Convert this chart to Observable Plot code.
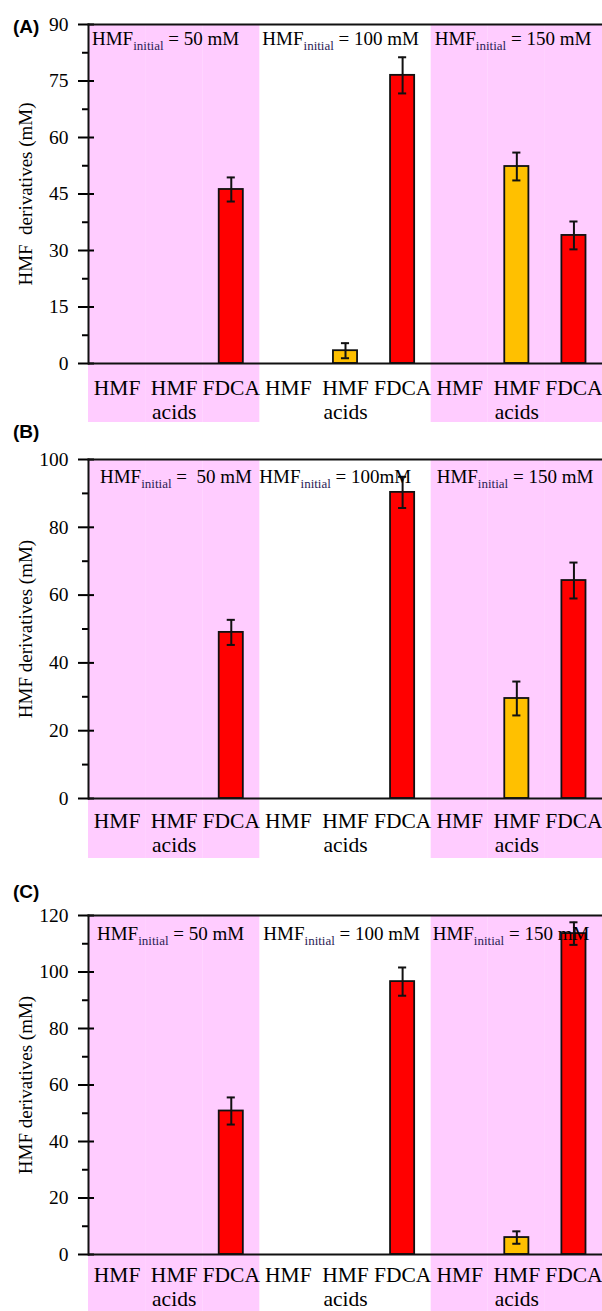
<!DOCTYPE html>
<html><head><meta charset="utf-8">
<script src="https://cdn.jsdelivr.net/npm/d3@7"></script>
<script src="https://cdn.jsdelivr.net/npm/@observablehq/plot@0.6"></script>
<style>
body{margin:0;background:#fff;}
#wrap{position:relative;width:602px;height:1311px;overflow:hidden;}
#wrap svg text{font-family:"Liberation Serif",serif !important;}
.plabel{position:absolute;left:13px;font:bold 19px "Liberation Sans",Arial,sans-serif;line-height:19px;color:#000;}
svg{display:block;}
</style></head><body><div id="wrap"></div>
<script>
const groups = ["50 mM", "100 mM", "150 mM"];
const categories = ["HMF", "HMF\nacids", "FDCA"];
const panelLetters = ["(A)", "(B)", "(C)"];
const yTitles = ["HMF  derivatives (mM)", "HMF derivatives (mM)", "HMF derivatives (mM)"];

const yMaxA = 90, yMaxB = 100, yMaxC = 120;
const ticksA = [0, 15, 30, 45, 60, 75, 90];
const minorA = [7.5, 22.5, 37.5, 52.5, 67.5, 82.5];
const ticksB = [0, 20, 40, 60, 80, 100];
const minorB = [10, 30, 50, 70, 90];
const ticksC = [0, 20, 40, 60, 80, 100, 120];
const minorC = [10, 30, 50, 70, 90, 110];

// order: group 50 mM (HMF, HMF acids, FDCA), 100 mM (...), 150 mM (...)
const valuesA = [0, 0, 46.2, 0, 3.4, 76.5, 0, 52.3, 34.0];
const errorsA = [0, 0, 3.2, 0, 2.0, 4.8, 0, 3.7, 3.7];
const valuesB = [0, 0, 49.0, 0, 0, 90.3, 0, 29.5, 64.3];
const errorsB = [0, 0, 3.7, 0, 0, 4.6, 0, 5.0, 5.3];
const valuesC = [0, 0, 50.8, 0, 0, 96.6, 0, 6.0, 113.6];
const errorsC = [0, 0, 4.8, 0, 0, 5.0, 0, 2.2, 4.0];

const annotA = ["= 50 mM", "= 100 mM", "= 150 mM"];
const annotB = ["=  50 mM", "= 100mM", "= 150 mM"];
const annotC = ["= 50 mM", "= 100 mM", "= 150 mM"];

const SERIF = "Liberation Serif";
const PINK = "#FFCCFF";
const barColors = ["#999999", "#FFC000", "#FF0000"];

const panels = [
  {letter: panelLetters[0], title: yTitles[0], yMax: yMaxA, ticks: ticksA, minor: minorA, values: valuesA, errors: errorsA, annot: annotA,
   height: 426, mt: 24, mb: 63, ext: 59, annotDy: 21, annotDx: [4, 3, 4], letterTop: 17, pad: 15, lh: 1.1},
  {letter: panelLetters[1], title: yTitles[1], yMax: yMaxB, ticks: ticksB, minor: minorB, values: valuesB, errors: errorsB, annot: annotB,
   height: 432, mt: 33, mb: 60, ext: 60, annotDy: 24, annotDx: [12, 0, 6], letterTop: 422, pad: 13, lh: 1.1},
  {letter: panelLetters[2], title: yTitles[2], yMax: yMaxC, ticks: ticksC, minor: minorC, values: valuesC, errors: errorsC, annot: annotC,
   height: 453, mt: 57, mb: 57, ext: 57, annotDy: 25, annotDx: [9, 4, 2], letterTop: 882, pad: 10, lh: 1.12}
];

const keys = [];
groups.forEach((g, gi) => categories.forEach((c, ci) => keys.push({key: gi + "|" + c, gi, ci, cat: c})));

function annotMark(texts, dxs, dy, yMax) {
  return (index, scales, values, dims, context) => {
    const g = d3.create("svg:g").attr("font-family", SERIF).attr("fill", "#000").attr("text-anchor", "start");
    groups.forEach((grp, i) => {
      const k = i + "|" + categories[0];
      const t = g.append("text")
        .attr("x", scales.x(k) + dxs[i])
        .attr("y", scales.y(yMax) + dy)
        .attr("font-size", 19)
        .attr("text-anchor", "start")
        .attr("xml:space", "preserve")
        .style("white-space", "pre");
      t.append("tspan").text("HMF");
      t.append("tspan").attr("font-size", 13).attr("dy", 5).attr("fill", "#2b1d55").text("initial");
      t.append("tspan").attr("dy", -5).text(" " + texts[i]);
    });
    return g.node();
  };
}

const wrap = document.getElementById("wrap");
panels.forEach((p) => {
  const rows = keys.map((k, i) => ({...k, v: p.values[i], e: p.errors[i]}));
  const shown = rows.filter(d => d.v > 0);
  const pinkRows = rows.filter(d => d.gi !== 1);
  const chart = Plot.plot({
    width: 602,
    height: p.height,
    marginLeft: 88,
    marginRight: 0,
    marginTop: p.mt,
    marginBottom: p.mb,
    style: {fontFamily: SERIF, fontSize: "19px", color: "#000", background: "transparent", overflow: "visible"},
    x: {domain: keys.map(k => k.key), padding: 0, round: false, label: null, axis: null},
    y: {domain: [0, p.yMax], label: null, axis: null},
    color: {domain: categories, range: barColors},
    marks: [
      Plot.barY(pinkRows, {x: "key", y1: 0, y2: p.yMax, fill: PINK, insetBottom: -p.ext}),
      Plot.axisX({tickSize: 0, tickPadding: p.pad, fontSize: 21.5, fontFamily: SERIF, lineHeight: p.lh, tickFormat: k => k.split("|")[1], label: null}),
      Plot.axisY(p.ticks, {tickSize: 16, dx: 6, tickPadding: 10, fontSize: 19.5, fontFamily: SERIF, strokeWidth: 2, label: null}),
      Plot.axisY(p.minor, {tickSize: 6, strokeWidth: 2, tickFormat: () => "", label: null}),
      Plot.text([p.title], {frameAnchor: "left", rotate: -90, dx: -63, fontSize: 19, fontFamily: SERIF, textAnchor: "middle", lineAnchor: "middle"}),
      Plot.barY(shown, {x: "key", y: "v", fill: "cat", stroke: "#111", strokeWidth: 1.8, insetLeft: 16.5, insetRight: 16.5}),
      Plot.ruleX(shown, {x: "key", y1: d => d.v - d.e, y2: d => d.v + d.e, stroke: "#111", strokeWidth: 2}),
      Plot.tickY(shown, {x: "key", y: d => d.v + d.e, stroke: "#111", strokeWidth: 2, insetLeft: 24.5, insetRight: 24.5}),
      Plot.tickY(shown, {x: "key", y: d => d.v - d.e, stroke: "#111", strokeWidth: 2, insetLeft: 24.5, insetRight: 24.5}),
      Plot.ruleY([0], {stroke: "#111", strokeWidth: 2}),
      Plot.frame({anchor: "left", stroke: "#111", strokeWidth: 2}),
      Plot.frame({anchor: "top", stroke: "#111", strokeWidth: 2}),
      annotMark(p.annot, p.annotDx, p.annotDy, p.yMax)
    ]
  });
  d3.select(chart).selectAll("text").style("font-family", "'Liberation Serif', serif");
  wrap.appendChild(chart);
  const lab = document.createElement("div");
  lab.className = "plabel";
  lab.style.top = p.letterTop + "px";
  lab.textContent = p.letter;
  wrap.appendChild(lab);
});
</script></body></html>
